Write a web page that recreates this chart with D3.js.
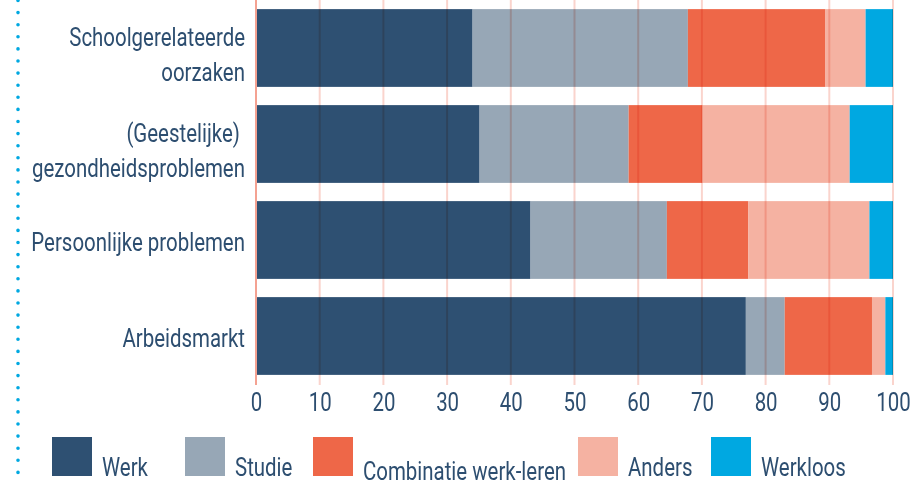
<!DOCTYPE html>
<html>
<head>
<meta charset="utf-8">
<script src="https://cdn.jsdelivr.net/npm/d3@7"></script>
<style>
  html, body { margin: 0; padding: 0; background: #fff; }
  svg { display: block; }
  text { font-family: Roboto, "Noto Sans", sans-serif; fill: #2d4e70; font-size: 25px; }
  .grid line { mix-blend-mode: multiply; }
</style>
</head>
<body>
<svg id="chart" width="913" height="484"></svg>
<script>
// categories (top to bottom), each label split over lines
const categories = ['Schoolgerelateerde oorzaken', '(Geestelijke) gezondheidsproblemen', 'Persoonlijke problemen', 'Arbeidsmarkt'];
const labelLines = [
  ['Schoolgerelateerde', 'oorzaken'],
  ['(Geestelijke) ', 'gezondheidsproblemen'],
  ['Persoonlijke problemen'],
  ['Arbeidsmarkt']
];

// series names and values (%), one value per category
const seriesNames = ['Werk', 'Studie', 'Combinatie werk-leren', 'Anders', 'Werkloos'];
const werk       = [34.0, 35.1, 43.1, 76.9];
const studie     = [33.8, 23.4, 21.4, 6.1];
const combinatie = [21.6, 11.6, 12.8, 13.7];
const anders     = [6.3, 23.1, 19.0, 2.1];
const werkloos   = [4.3, 6.8, 3.7, 1.2];
const colors = ['#2e5072', '#97a7b6', '#ee6748', '#f5b2a2', '#00a8e1'];

const tickValues = [0, 10, 20, 30, 40, 50, 60, 70, 80, 90, 100];

const svg = d3.select('#chart');
const W = 913, H = 484;

// the reference font is a condensed one: squeeze every text by the same factor
function measure(str) {
  const t = svg.append('text').text(str);
  const w = t.node().getComputedTextLength();
  t.remove();
  return w;
}
const K = 213 / measure('gezondheidsproblemen');
function condense(sel) {
  sel.each(function () {
    const w = this.getComputedTextLength();
    d3.select(this).attr('textLength', w * K).attr('lengthAdjust', 'spacingAndGlyphs');
  });
}

// dotted line on the left
svg.append('line')
  .attr('x1', 18).attr('x2', 18)
  .attr('y1', 0.5).attr('y2', H)
  .attr('stroke', '#00a8e1')
  .attr('stroke-width', 3.6)
  .attr('stroke-linecap', 'round')
  .attr('stroke-dasharray', '0 12.1');

const x = d3.scaleLinear().domain([0, 100]).range([256, 893]);
const y = d3.scaleBand().domain(categories).range([0, 384]).paddingInner(0.19).paddingOuter(0.095);

// table for d3.stack
const table = categories.map((c, i) => ({
  cat: c,
  'Werk': werk[i],
  'Studie': studie[i],
  'Combinatie werk-leren': combinatie[i],
  'Anders': anders[i],
  'Werkloos': werkloos[i]
}));
const stacked = d3.stack().keys(seriesNames)(table);

const gBars = svg.append('g');
gBars.selectAll('g')
  .data(stacked)
  .enter().append('g')
  .attr('fill', (d, i) => colors[i])
  .selectAll('rect')
  .data(d => d)
  .enter().append('rect')
  .attr('x', d => x(d[0]))
  .attr('y', d => y(d.data.cat))
  .attr('width', d => x(d[1]) - x(d[0]))
  .attr('height', y.bandwidth());

// gridlines (drawn over the bars)
const gridBottom = 385;
svg.append('g').attr('class', 'grid')
  .selectAll('line')
  .data(tickValues.filter(t => t > 0))
  .enter().append('line')
  .attr('x1', d => x(d)).attr('x2', d => x(d))
  .attr('y1', 0).attr('y2', gridBottom)
  .attr('stroke', '#ee7a64')
  .attr('stroke-opacity', 0.32)
  .attr('stroke-width', 2);

// zero line
svg.append('line')
  .attr('x1', x(0)).attr('x2', x(0))
  .attr('y1', 0).attr('y2', gridBottom)
  .attr('stroke', '#f4a292')
  .attr('stroke-width', 2);

// x axis
const xAxis = svg.append('g')
  .attr('transform', `translate(0,${gridBottom})`)
  .call(d3.axisBottom(x).tickValues(tickValues).tickSize(0).tickPadding(8).tickFormat(d3.format('d')));
xAxis.select('.domain').remove();
xAxis.selectAll('text')
  .attr('fill', '#2d4e70')
  .attr('font-size', null)
  .attr('font-family', null)
  .call(condense);

// category labels
const lineOffsets = { 1: [11], 2: [-2, 33] };
const labels = svg.append('g');
categories.forEach((c, i) => {
  const cy = y(c) + y.bandwidth() / 2;
  const lines = labelLines[i];
  const offs = lineOffsets[lines.length];
  lines.forEach((ln, j) => {
    labels.append('text')
      .attr('text-anchor', 'end')
      .attr('x', 245)
      .attr('y', cy + offs[j])
      .style('white-space', 'pre')
      .text(ln);
  });
});
labels.selectAll('text').call(condense);

// legend
const legendX = [52, 185, 313, 578, 711];
const legend = svg.append('g');
seriesNames.forEach((name, i) => {
  legend.append('rect')
    .attr('x', legendX[i]).attr('y', 437)
    .attr('width', 40).attr('height', 39)
    .attr('fill', colors[i]);
  legend.append('text')
    .attr('x', legendX[i] + 50)
    .attr('y', name === 'Combinatie werk-leren' ? 480 : 476)
    .text(name);
});
legend.selectAll('text').call(condense);
</script>
</body>
</html>
